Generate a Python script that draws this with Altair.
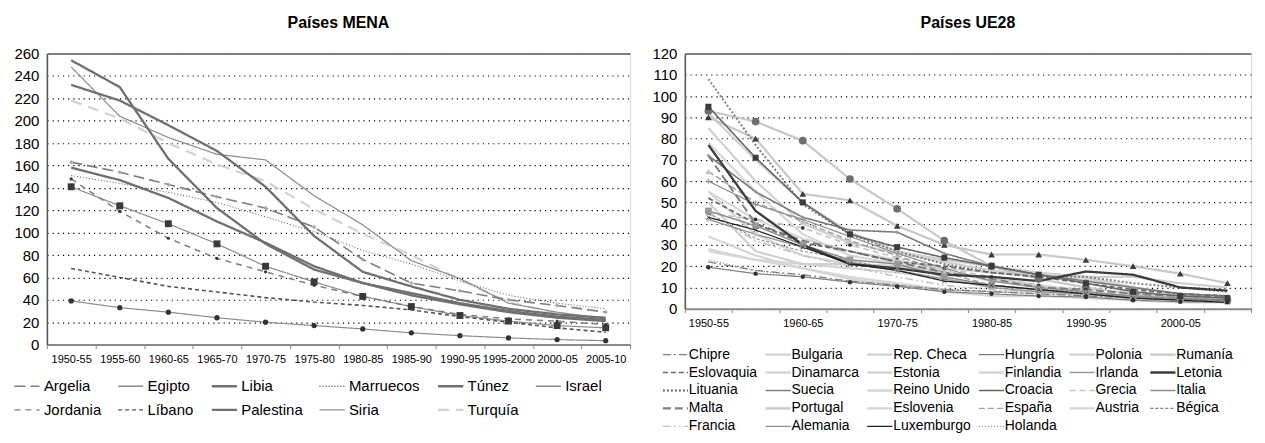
import json
import altair as alt
import pandas as pd

periodos = ["1950-55", "1955-60", "1960-65", "1965-70", "1970-75", "1975-80",
            "1980-85", "1985-90", "1990-95", "1995-2000", "2000-05", "2005-10"]

# ---------------- Países MENA ----------------
argelia = [163, 154, 143, 132, 122, 105, 76, 55, 48, 40, 35, 29]
egipto = [248, 204, 185, 170, 165, 133, 107, 75, 59, 37, 29, 23]
libia = [254, 230, 166, 122, 90, 67, 55, 46, 37, 30, 25, 22]
marruecos = [151, 144, 136, 127, 114, 101, 84, 72, 57, 44, 37, 32]
tunez = [232, 218, 196, 173, 141, 97, 65, 52, 40, 32, 27, 24]
israel = [39, 33, 29, 24, 20, 17, 14, 10.5, 8, 6, 4.5, 3.5]
jordania = [148, 119, 95, 77, 65, 53, 43, 34, 27, 23, 21, 18]
libano = [68, 60, 52, 47, 42, 38, 35, 31, 25, 20, 15, 11]
palestina = [158, 147, 131, 110, 91, 70, 55, 44, 36, 29, 24, 21]
siria = [141, 124, 108, 90, 70, 56, 43, 34, 26, 21, 17, 15]
turquia = [218, 202, 180, 161, 146, 121, 99, 80, 58, 38, 28, 22]

mena_nombres = ["Argelia", "Egipto", "Libia", "Marruecos", "Túnez", "Israel",
                "Jordania", "Líbano", "Palestina", "Siria", "Turquía"]
mena_series = [argelia, egipto, libia, marruecos, tunez, israel,
               jordania, libano, palestina, siria, turquia]

# ---------------- Países UE28 ----------------
chipre = [22, 18, 16, 13, 11, 9, 8, 7, 6, 5, 4.5, 4]
bulgaria = [85, 60, 40, 31, 26, 22, 18, 16, 15, 15, 12, 10]
rep_checa = [50, 27, 21, 21, 20, 17, 14, 11, 8, 5, 4, 3]
hungria = [72, 55, 43, 37, 36, 26, 20, 16, 13, 10, 7, 6]
polonia = [92, 70, 50, 36, 27, 23, 20, 17, 15, 10, 7, 6]
rumania = [90, 80, 54, 51, 39, 30, 25.5, 25.5, 23, 20, 16.5, 12]
eslovaquia = [52, 40, 31, 27, 22, 20, 17, 15, 12, 9, 7, 6]
dinamarca = [27, 23, 19, 15, 12, 9, 8, 8, 6, 5, 4.5, 4]
estonia = [55, 35, 25, 21, 20, 19, 17, 16, 14, 10, 7, 5]
finlandia = [34, 25, 19, 14, 11, 8, 6, 6, 5, 4, 3, 3]
irlanda = [42, 35, 29, 22, 18, 14, 10, 8, 7, 6, 5, 4]
letonia = [77, 46, 30, 21, 19, 16, 15, 13, 17.5, 16, 10, 8.5]
lituania = [108, 77, 49, 35, 27, 21, 17, 15, 15, 12, 10, 8]
suecia = [19.5, 16.5, 15, 12.5, 10.5, 8, 7, 6, 5.5, 4, 3.3, 3]
reino_unido = [28, 23, 21, 19, 17, 14, 11, 9, 7, 6, 5, 5]
croacia = [95, 71, 50, 35, 29, 24, 20, 16, 12, 8, 6, 5]
grecia = [45, 42, 38, 30, 24, 19, 15, 11, 9, 7, 5, 4]
italia = [60, 49, 42, 34, 26, 19, 13, 10, 8, 6, 4.5, 4]
malta = [72, 40, 32, 27, 22, 17, 14, 10, 9, 7, 6, 5.5]
portugal = [93, 88, 79, 61, 47, 32, 20, 14, 10, 7, 5, 4]
eslovenia = [78, 55, 35, 25, 21, 17, 14, 11, 8, 6, 4, 3]
espana = [64.5, 50, 41, 32, 25, 17, 11, 9, 7, 6, 4.5, 4]
austria = [55, 42, 33, 27, 23, 18, 13, 10, 7, 5, 4.5, 4]
belgica = [45, 33, 27, 23, 18, 13, 11, 9, 8, 5, 4, 4]
francia = [45, 32, 25, 20, 15, 11, 9, 8, 7, 5, 4, 4]
alemania = [46, 39, 30, 23, 21, 15, 11, 9, 7, 5, 4.5, 4]
luxemburgo = [43, 37, 29, 21, 18, 13, 11, 9, 7, 5, 4, 3]
holanda = [23, 18, 15, 13, 11, 9, 8, 7, 6.5, 5.5, 5, 4.5]

ue_nombres = ["Chipre", "Bulgaria", "Rep. Checa", "Hungría", "Polonia", "Rumanía",
              "Eslovaquia", "Dinamarca", "Estonia", "Finlandia", "Irlanda", "Letonia",
              "Lituania", "Suecia", "Reino Unido", "Croacia", "Grecia", "Italia",
              "Malta", "Portugal", "Eslovenia", "España", "Austria", "Bégica",
              "Francia", "Alemania", "Luxemburgo", "Holanda"]
ue_series = [chipre, bulgaria, rep_checa, hungria, polonia, rumania,
             eslovaquia, dinamarca, estonia, finlandia, irlanda, letonia,
             lituania, suecia, reino_unido, croacia, grecia, italia,
             malta, portugal, eslovenia, espana, austria, belgica,
             francia, alemania, luxemburgo, holanda]

# ---------------- styles (color, dash, width) ----------------
SOLID = [1, 0]
mena_estilo = {
    "Argelia": ("#7f7f7f", [11, 5], 1.6),
    "Egipto": ("#8c8c8c", SOLID, 1.2),
    "Libia": ("#707070", SOLID, 2.3),
    "Marruecos": ("#555555", [1, 2], 1.0),
    "Túnez": ("#707070", SOLID, 2.3),
    "Israel": ("#8c8c8c", SOLID, 1.2),
    "Jordania": ("#7f7f7f", [6, 5], 1.5),
    "Líbano": ("#555555", [4, 3], 1.6),
    "Palestina": ("#707070", SOLID, 2.3),
    "Siria": ("#8c8c8c", SOLID, 1.2),
    "Turquía": ("#d2d2d2", [11, 7], 2.2),
}
mena_marca = {
    "Argelia": ("diamond", "#a8a8a8", 18),
    "Israel": ("circle", "#333333", 28),
    "Jordania": ("circle", "#333333", 10),
    "Siria": ("square", "#3a3a3a", 48),
}

CRUZ = "M-1,-0.15H-0.15V-1H0.15V-0.15H1V0.15H0.15V1H-0.15V0.15H-1Z"
EQUIS = ("M-0.85,-1L0,-0.15L0.85,-1L1,-0.85L0.15,0L1,0.85L0.85,1L0,0.15"
         "L-0.85,1L-1,0.85L-0.15,0L-1,-0.85Z")

ue_estilo = {
    "Chipre": ("#7f7f7f", [8, 3, 2, 3], 1.3),
    "Bulgaria": ("#d0d0d0", SOLID, 2.2),
    "Rep. Checa": ("#d0d0d0", SOLID, 2.2),
    "Hungría": ("#7a7a7a", SOLID, 1.6),
    "Polonia": ("#d0d0d0", SOLID, 2.2),
    "Rumanía": ("#c8c8c8", SOLID, 2.2),
    "Eslovaquia": ("#6a6a6a", [5, 3], 1.8),
    "Dinamarca": ("#d6d6d6", SOLID, 2.2),
    "Estonia": ("#d6d6d6", SOLID, 2.2),
    "Finlandia": ("#d6d6d6", SOLID, 2.2),
    "Irlanda": ("#9a9a9a", SOLID, 1.5),
    "Letonia": ("#3c3c3c", SOLID, 2.3),
    "Lituania": ("#808080", [2, 2], 2.0),
    "Suecia": ("#7f7f7f", SOLID, 1.2),
    "Reino Unido": ("#d6d6d6", SOLID, 2.2),
    "Croacia": ("#666666", SOLID, 1.6),
    "Grecia": ("#c4c4c4", [6, 4], 1.6),
    "Italia": ("#8c8c8c", SOLID, 1.2),
    "Malta": ("#808080", [8, 4], 2.0),
    "Portugal": ("#c8c8c8", SOLID, 2.2),
    "Eslovenia": ("#d6d6d6", SOLID, 2.2),
    "España": ("#a0a0a0", [6, 3], 1.5),
    "Austria": ("#d6d6d6", SOLID, 2.2),
    "Bégica": ("#808080", [3, 2], 1.0),
    "Francia": ("#c4c4c4", [8, 3, 2, 3, 2, 3], 1.6),
    "Alemania": ("#8c8c8c", SOLID, 1.5),
    "Luxemburgo": ("#1e1e1e", SOLID, 1.2),
    "Holanda": ("#909090", [1, 2], 1.2),
}
ue_marca = {
    "Hungría": ("diamond", "#9a9a9a", 16),
    "Rumanía": ("triangle-up", "#3c3c3c", 45),
    "Irlanda": ("diamond", "#c4c4c4", 28),
    "Suecia": ("circle", "#333333", 20),
    "Croacia": ("square", "#3c3c3c", 36),
    "Grecia": ("circle", "#333333", 14),
    "Italia": (CRUZ, "#8c8c8c", 30),
    "Portugal": ("circle", "#6e6e6e", 60),
    "España": ("triangle-up", "#c4c4c4", 40),
    "Alemania": ("square", "#999999", 45),
    "Luxemburgo": (EQUIS, "#1e1e1e", 22),
}

FUENTE = "Liberation Sans"


def panel(titulo, nombres, series, estilo, marca, ancho, alto, ymax, paso,
          label_expr, ley_x, ley_y, ley_font, ley_colpad, ley_rowpad, ley_off):
    # lighter lines first so that darker ones are drawn on top
    orden = sorted(nombres, key=lambda n: -int(estilo[n][0][1:3], 16))
    filas = []
    for n in orden:
        vals = series[nombres.index(n)]
        for p, v in zip(periodos, vals):
            filas.append({"periodo": p, "valor": v, "serie": n,
                          "grosor": estilo[n][2],
                          "tam": marca[n][2] if n in marca else 0})
    df = pd.DataFrame(filas)

    eje_x = alt.Axis(title=None, labelAngle=0, labelFont="Liberation Sans Narrow, Arial Narrow, sans-serif",
                     labelFontSize=11, labelColor="#000000", tickBand="extent",
                     ticks=True, tickSize=4, tickColor="#8a8a8a", domainColor="#8a8a8a",
                     domainWidth=2, grid=False, labelPadding=5, labelExpr=label_expr)
    eje_y = alt.Axis(title=None, values=list(range(0, ymax + 1, paso)),
                     labelFont=FUENTE, labelFontSize=15, labelColor="#000000",
                     labelPadding=8, ticks=False, domainColor="#5a5a5a", domainWidth=1.6,
                     grid=True,
                     gridColor={"condition": {"test": f"datum.value >= {ymax}", "value": "#5a5a5a"},
                                "value": "#000000"},
                     gridDash={"condition": {"test": f"datum.value >= {ymax}", "value": [1, 0]},
                               "value": [1.2, 4]},
                     gridWidth={"condition": {"test": f"datum.value >= {ymax}", "value": 1.6},
                                "value": 1.2})

    x = alt.X("periodo:N", sort=periodos,
              scale=alt.Scale(type="band", paddingInner=0, paddingOuter=0),
              bandPosition=0.5, axis=eje_x)
    y = alt.Y("valor:Q", scale=alt.Scale(domain=[0, ymax], nice=False, zero=True), axis=eje_y)

    gruesos = [n for n in nombres if estilo[n][2] >= 2.0]
    expr_ancho = ("indexof(" + json.dumps(gruesos, ensure_ascii=False) +
                  ", datum.value) >= 0 ? 2.4 : 1.4")
    leyenda = alt.Legend(orient="none", legendX=ley_x, legendY=ley_y, columns=6,
                         direction="horizontal",
                         symbolType="M-1,0H2.6", symbolSize=196, labelOffset=ley_off,
                         labelFont=FUENTE, labelFontSize=ley_font, labelColor="#000000",
                         labelLimit=0, title=None, gridAlign="each",
                         columnPadding=ley_colpad, rowPadding=ley_rowpad,
                         symbolStrokeWidth=alt.ExprRef(expr=expr_ancho),
                         symbolOpacity=1)

    lineas = alt.Chart(df).mark_line().encode(
        x=x, y=y,
        color=alt.Color("serie:N", scale=alt.Scale(domain=nombres,
                                                    range=[estilo[n][0] for n in nombres]),
                        legend=leyenda),
        strokeDash=alt.StrokeDash("serie:N", scale=alt.Scale(domain=nombres,
                                                              range=[estilo[n][1] for n in nombres]),
                                  legend=leyenda),
        strokeWidth=alt.StrokeWidth("grosor:Q", scale=None, legend=None),
    )

    con_marca = list(marca.keys())
    puntos = alt.Chart(df).transform_filter(
        alt.FieldOneOfPredicate(field="serie", oneOf=con_marca)
    ).mark_point(filled=True, opacity=1, strokeWidth=0).encode(
        x=x, y=y,
        shape=alt.Shape("serie:N", scale=alt.Scale(domain=con_marca,
                                                    range=[marca[n][0] for n in con_marca]),
                        legend=None),
        fill=alt.Fill("serie:N", scale=alt.Scale(domain=con_marca,
                                                  range=[marca[n][1] for n in con_marca]),
                      legend=None),
        size=alt.Size("tam:Q", scale=None, legend=None),
    )

    return alt.layer(lineas, puntos).properties(
        width=ancho, height=alto,
        title=alt.TitleParams(titulo, font=FUENTE, fontSize=16, fontWeight="bold",
                              color="#000000", anchor="middle", offset=16),
    )


izq = panel("Países MENA", mena_nombres, mena_series, mena_estilo, mena_marca,
            585, 292, 260, 20, "datum.label", -33, 326, 15, 13, 8, 15)
der = panel("Países UE28", ue_nombres, ue_series, ue_estilo, ue_marca,
            568, 256, 120, 10,
            "substring(datum.label, 3, 4) == '0' ? datum.label : ''",
            -22, 295, 14, 3, 4, 12)

chart = alt.hconcat(izq, der, spacing=20).resolve_scale(
    x="independent", y="independent", color="independent", strokeDash="independent",
    shape="independent", fill="independent"
).resolve_legend(color="independent", strokeDash="independent").configure_view(
    stroke=None
).configure(font=FUENTE, background="white")

chart.save("out.html", embed_options={"renderer": "svg", "actions": False})
